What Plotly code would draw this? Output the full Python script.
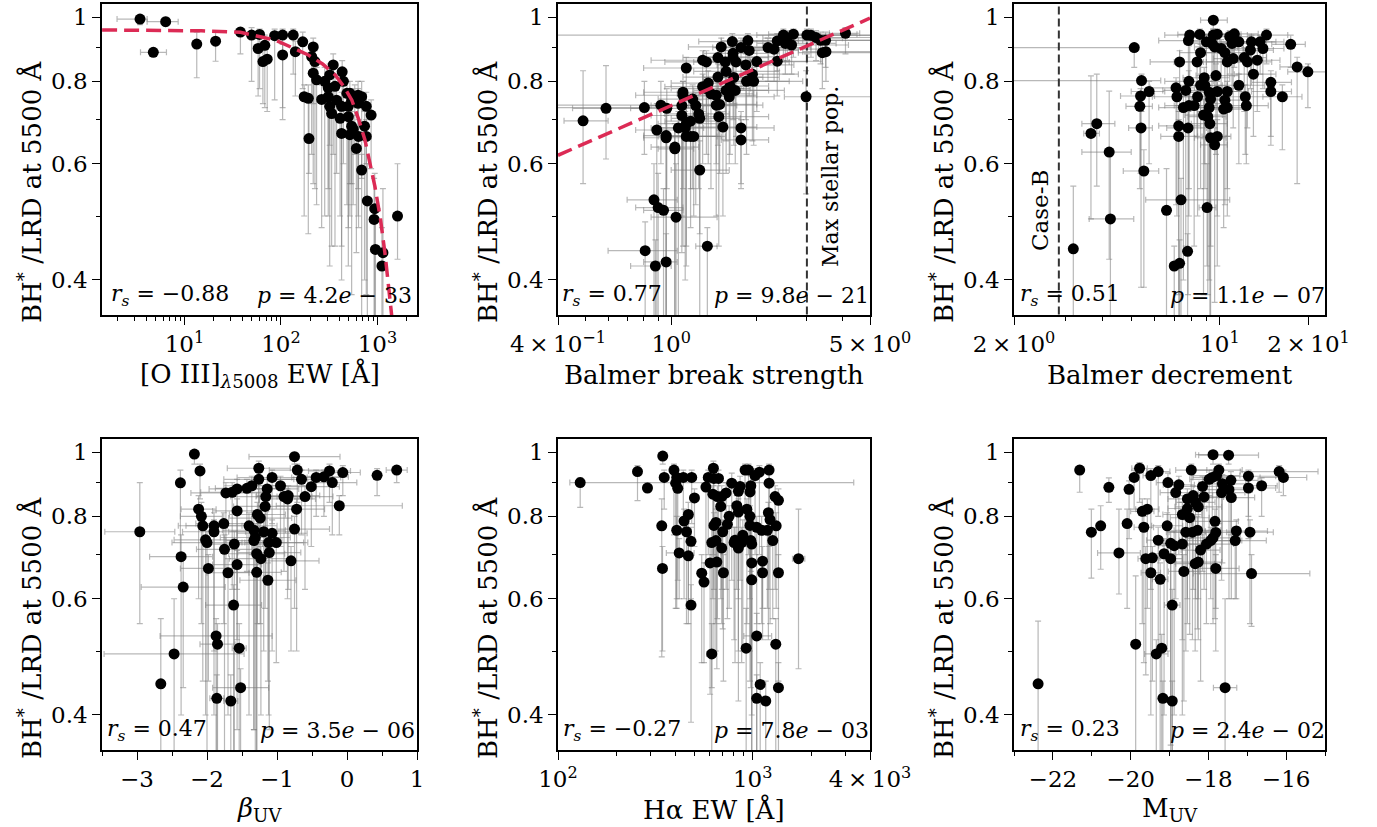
import plotly.graph_objects as go

# ---------------- data ----------------
# Panel 1: [O III] EW vs BH*/LRD fraction
p1_x = [3.46, 6.38, 4.75, 13.4, 21, 38, 49.6, 60, 58, 68, 65, 72, 86, 104, 104, 134, 141, 168, 216, 208,
        225, 348, 431, 216, 234, 284, 309, 363, 444, 518, 582, 174, 192, 264, 320, 335, 425, 499, 630, 766,
        860, 410, 499, 540, 560, 735, 425, 518, 637, 766, 605, 195, 686, 786, 937, 923, 953, 1140, 1113, 1615,
        309, 483, 540, 630, 377, 320, 686]
p1_y = [0.994, 0.985, 0.885, 0.911, 0.92, 0.95, 0.94, 0.942, 0.897, 0.907, 0.857, 0.864, 0.938, 0.94, 0.877,
        0.94, 0.887, 0.918, 0.902, 0.872, 0.857, 0.847, 0.827, 0.823, 0.804, 0.80, 0.782, 0.786, 0.80, 0.767,
        0.754, 0.758, 0.754, 0.751, 0.733, 0.715, 0.733, 0.733, 0.741, 0.733, 0.711, 0.703, 0.707, 0.684, 0.677,
        0.684, 0.667, 0.664, 0.66, 0.66, 0.633, 0.655, 0.587, 0.527, 0.513, 0.494, 0.445, 0.44, 0.42, 0.50,
        0.758, 0.767, 0.749, 0.762, 0.749, 0.818, 0.758]
p1_ylo = [0.975, 0.97, 0.875, 0.81, 0.858, 0.88, 0.80, 0.78, 0.76, 0.73, 0.74, 0.72, 0.75, 0.73, 0.70, 0.82,
          0.76, 0.78, 0.74, 0.62, 0.55, 0.62, 0.72, 0.56, 0.52, 0.50, 0.55, 0.45, 0.60, 0.56, 0.62, 0.50, 0.47,
          0.48, 0.42, 0.45, 0.40, 0.48, 0.55, 0.60, 0.59, 0.50, 0.42, 0.38, 0.52, 0.40, 0.45, 0.50, 0.48, 0.38,
          0.44, 0.58, 0.34, 0.30, 0.30, 0.30, 0.30, 0.30, 0.30, 0.43, 0.50, 0.52, 0.56, 0.50, 0.58, 0.64, 0.57]
p1_yhi = [1.0, 1.0, 0.895, 0.95, 0.955, 0.965, 0.965, 0.96, 0.93, 0.94, 0.89, 0.90, 0.96, 0.96, 0.91, 0.96,
          0.92, 0.95, 0.93, 0.90, 0.89, 0.88, 0.86, 0.86, 0.84, 0.84, 0.82, 0.82, 0.83, 0.80, 0.79, 0.79, 0.79,
          0.79, 0.77, 0.75, 0.77, 0.77, 0.78, 0.77, 0.75, 0.74, 0.745, 0.72, 0.71, 0.72, 0.70, 0.70, 0.70, 0.70,
          0.67, 0.75, 0.62, 0.60, 0.58, 0.57, 0.52, 0.55, 0.48, 0.60, 0.79, 0.80, 0.78, 0.80, 0.78, 0.85, 0.80]
p1_xlo = [2.0, 4.1, 3.5] + [None] * 64
p1_xhi = [4.1, 8.6, 6.5] + [None] * 64
p1_fit_x = [1.4, 5, 15, 38, 87, 192, 270, 365, 450, 543, 640, 742, 840, 942, 1070, 1197, 1403, 1450]
p1_fit_y = [0.957, 0.956, 0.954, 0.949, 0.924, 0.877, 0.85, 0.818, 0.785, 0.749, 0.70, 0.652, 0.603, 0.554,
            0.497, 0.439, 0.354, 0.335]

# Panel 2: Balmer break strength
p2_x = [0.49, 0.59, 0.805, 0.92, 0.965, 0.89, 0.96, 0.96, 1.03, 1.03, 0.87, 0.90, 0.94, 1.04, 0.81, 0.88, 0.96,
        1.34, 1.26, 1.13, 1.10, 1.10, 1.09, 1.09, 1.12, 1.13, 1.17, 1.13, 1.17, 1.2, 1.19, 1.22, 1.25, 1.26,
        1.29, 1.33, 1.29, 1.33, 1.35, 1.38, 1.44, 1.44, 1.47, 1.48, 1.46, 1.46, 1.50, 1.52, 1.55, 1.56, 1.56,
        1.60, 1.61, 1.64, 1.65, 1.66, 1.68, 1.65, 1.69, 1.76, 1.76, 1.76, 1.83, 1.84, 1.86, 1.88, 1.93, 1.95,
        2.0, 2.19, 2.30, 2.36, 2.36, 2.48, 2.52, 2.56, 2.69, 2.65, 2.98, 3.0, 3.1, 3.23, 3.35, 3.49, 3.4, 3.5,
        4.1, 1.06]
p2_y = [0.697, 0.728, 0.73, 0.736, 0.728, 0.675, 0.662, 0.657, 0.636, 0.632, 0.529, 0.515, 0.51, 0.498, 0.443,
        0.42, 0.426, 0.45, 0.587, 0.838, 0.77, 0.762, 0.735, 0.71, 0.68, 0.69, 0.696, 0.66, 0.66, 0.66, 0.752,
        0.735, 0.714, 0.703, 0.785, 0.78, 0.861, 0.856, 0.795, 0.766, 0.762, 0.736, 0.707, 0.738, 0.812, 0.869,
        0.902, 0.682, 0.856, 0.828, 0.775, 0.758, 0.787, 0.919, 0.882, 0.811, 0.775, 0.871, 0.856, 0.90, 0.68,
        0.652, 0.847, 0.80, 0.922, 0.891, 0.82, 0.80, 0.857, 0.90, 0.895, 0.921, 0.858, 0.94, 0.913, 0.93, 0.943,
        0.908, 0.758, 0.94, 0.939, 0.932, 0.923, 0.923, 0.884, 0.887, 0.946, 0.68]
p2_ylo = [0.56, 0.61, 0.62, 0.60, 0.55, 0.30, 0.35, 0.30, 0.30, 0.30, 0.30, 0.30, 0.30, 0.35, 0.30, 0.30, 0.30,
          0.30, 0.30, 0.68, 0.55, 0.45, 0.50, 0.44, 0.40, 0.45, 0.55, 0.42, 0.48, 0.50, 0.55, 0.52, 0.55, 0.47,
          0.60, 0.62, 0.72, 0.70, 0.60, 0.55, 0.60, 0.50, 0.45, 0.58, 0.64, 0.72, 0.76, 0.50, 0.68, 0.65, 0.58,
          0.60, 0.62, 0.80, 0.74, 0.64, 0.60, 0.70, 0.66, 0.78, 0.56, 0.55, 0.70, 0.62, 0.82, 0.76, 0.65, 0.64,
          0.72, 0.80, 0.80, 0.83, 0.76, 0.86, 0.82, 0.86, 0.87, 0.82, 0.54, 0.88, 0.87, 0.86, 0.85, 0.84, 0.78,
          0.80, 0.88, 0.30]
p2_yhi = [0.83, 0.845, 0.80, 0.80, 0.78, 0.74, 0.72, 0.71, 0.69, 0.68, 0.60, 0.58, 0.55, 0.60, 0.49, 0.46, 0.47,
          0.48, 0.65, 0.87, 0.80, 0.80, 0.78, 0.75, 0.72, 0.73, 0.73, 0.70, 0.70, 0.70, 0.79, 0.77, 0.75, 0.74,
          0.82, 0.81, 0.89, 0.89, 0.83, 0.80, 0.80, 0.77, 0.74, 0.78, 0.85, 0.90, 0.93, 0.72, 0.89, 0.86, 0.81,
          0.80, 0.82, 0.945, 0.91, 0.85, 0.81, 0.90, 0.89, 0.93, 0.72, 0.70, 0.88, 0.84, 0.945, 0.92, 0.86, 0.84,
          0.89, 0.93, 0.92, 0.945, 0.89, 0.96, 0.94, 0.955, 0.96, 0.935, 0.83, 0.96, 0.96, 0.955, 0.95, 0.95,
          0.91, 0.915, 0.965, 0.72]
p2_xlo = [0.42, 0.45, 0.30, 0.30, 0.72, 0.75, 0.8, 0.8, 0.85, 0.9, 0.7, 0.75, 0.8, 0.85, 0.6, 0.72, 0.8, 1.22,
          1.0, 0.8, 0.8, 0.75, 0.8, 0.85, 0.9, 0.9, 0.95, 0.9, 0.95, 1.0, 0.9, 0.85, 0.95, 1.0, 0.95, 1.0, 0.85,
          0.95, 1.0, 1.05, 1.1, 1.1, 1.1, 1.15, 1.1, 1.1, 1.15, 1.2, 1.2, 1.2, 1.2, 1.25, 1.25, 1.25, 1.3, 1.3,
          1.3, 1.3, 1.3, 1.4, 1.45, 1.5, 1.45, 1.5, 1.5, 1.5, 1.6, 1.6, 1.6, 1.8, 1.9, 1.9, 1.9, 2.0, 2.0, 2.1,
          2.2, 2.1, 2.5, 0.30, 2.6, 2.7, 2.7, 2.9, 2.8, 2.9, 3.6, 0.85]
p2_xhi = [0.60, 0.80, 1.0, 1.1, 1.3, 1.1, 1.15, 1.2, 1.25, 1.2, 1.05, 1.1, 1.1, 1.45, 1.05, 1.0, 1.05, 1.45,
          1.6, 1.5, 1.4, 1.6, 1.5, 1.35, 1.5, 1.45, 1.45, 1.5, 1.55, 1.45, 1.6, 1.7, 1.6, 1.75, 1.8, 1.9, 2.0,
          1.9, 1.9, 1.95, 2.0, 2.1, 2.2, 2.0, 2.1, 2.2, 2.3, 2.0, 2.3, 2.4, 2.2, 2.3, 2.2, 2.5, 2.4, 2.4, 2.5,
          2.3, 2.6, 2.6, 2.3, 2.2, 2.7, 2.6, 2.8, 2.8, 2.8, 2.9, 3.0, 3.1, 3.3, 3.5, 3.4, 3.6, 3.8, 4.0, 4.5,
          4.2, 5.5, 5.5, 5.5, 5.5, 5.5, 5.5, 5.5, 5.5, 4.6, 1.3]
p2_fit_x = [0.4, 5.0]
p2_fit_y = [0.618, 0.997]
p2_vline_x = 3.0

# Panel 3: Balmer decrement
p3_x = [3.18, 3.65, 3.82, 4.21, 4.25, 5.12, 5.42, 5.38, 5.75, 5.35, 5.4, 5.52, 6.59, 7.38, 7.0, 7.3, 7.77,
        9.05, 7.1, 7.15, 7.25, 7.25, 7.3, 7.52, 7.66, 7.82, 7.9, 7.85, 7.8, 7.85, 8.18, 8.37, 8.55, 8.6, 8.8,
        8.85, 8.9, 9.0, 9.1, 9.2, 9.25, 9.5, 9.5, 9.4, 9.6, 9.8, 9.7, 9.8, 9.3, 9.3, 9.8, 9.6, 10.1, 10.4,
        10.3, 10.4, 10.6, 10.6, 10.8, 11.0, 11.2, 11.1, 10.6, 11.6, 11.6, 12.1, 12.2, 12.3, 12.4, 12.8, 12.7,
        13.0, 13.4, 13.7, 14.0, 14.4, 14.9, 14.9, 16.3, 17.4, 18.3, 19.9, 8.6, 8.4, 9.2]
p3_y = [0.446, 0.667, 0.69, 0.625, 0.495, 0.90, 0.802, 0.76, 0.772, 0.733, 0.68, 0.585, 0.51, 0.529, 0.42,
        0.424, 0.442, 0.515, 0.782, 0.758, 0.685, 0.66, 0.856, 0.73, 0.775, 0.922, 0.94, 0.80, 0.68, 0.735,
        0.735, 0.856, 0.942, 0.884, 0.711, 0.81, 0.788, 0.918, 0.707, 0.73, 0.69, 0.99, 0.94, 0.913, 0.902,
        0.943, 0.816, 0.772, 0.752, 0.657, 0.66, 0.641, 0.897, 0.884, 0.726, 0.749, 0.73, 0.856, 0.935, 0.913,
        0.944, 0.866, 0.772, 0.918, 0.789, 0.869, 0.758, 0.735, 0.856, 0.918, 0.892, 0.82, 0.861, 0.918, 0.897,
        0.94, 0.797, 0.772, 0.758, 0.91, 0.841, 0.827, 0.789, 0.758, 0.77]
p3_ylo = [0.30, 0.495, 0.555, 0.43, 0.32, 0.84, 0.72, 0.58, 0.60, 0.55, 0.39, 0.39, 0.30, 0.30, 0.30, 0.30,
          0.30, 0.42, 0.52, 0.50, 0.35, 0.38, 0.72, 0.40, 0.45, 0.72, 0.74, 0.55, 0.38, 0.50, 0.45, 0.66, 0.80,
          0.72, 0.38, 0.60, 0.55, 0.76, 0.38, 0.40, 0.35, 0.96, 0.80, 0.76, 0.74, 0.82, 0.62, 0.50, 0.45, 0.33,
          0.42, 0.37, 0.74, 0.72, 0.48, 0.52, 0.50, 0.66, 0.82, 0.78, 0.84, 0.68, 0.55, 0.80, 0.60, 0.72, 0.62,
          0.60, 0.68, 0.82, 0.78, 0.66, 0.72, 0.82, 0.78, 0.85, 0.66, 0.64, 0.63, 0.84, 0.56, 0.73, 0.55, 0.50,
          0.52]
p3_yhi = [0.555, 0.815, 0.82, 0.773, 0.62, 0.91, 0.82, 0.78, 0.80, 0.77, 0.72, 0.63, 0.59, 0.57, 0.45, 0.46,
          0.47, 0.60, 0.81, 0.79, 0.72, 0.70, 0.89, 0.76, 0.81, 0.945, 0.955, 0.83, 0.72, 0.77, 0.77, 0.89, 0.96,
          0.91, 0.75, 0.84, 0.82, 0.94, 0.74, 0.76, 0.73, 1.0, 0.96, 0.94, 0.93, 0.96, 0.85, 0.80, 0.78, 0.69,
          0.70, 0.68, 0.925, 0.91, 0.76, 0.78, 0.76, 0.89, 0.955, 0.94, 0.96, 0.895, 0.80, 0.94, 0.82, 0.90,
          0.79, 0.77, 0.89, 0.94, 0.92, 0.85, 0.89, 0.94, 0.925, 0.96, 0.83, 0.80, 0.79, 0.94, 0.87, 0.85, 0.82,
          0.79, 0.80]
p3_xlo = [None, 3.45, 3.4, 3.4, 3.6, 1.5, 1.5, 4.6, 5.0, 4.8, 4.9, 4.7, None, 5.6, None, None, None, 8.5, 5.8,
          5.9, 6.2, 6.3, 5.8, 6.2, 6.4, 6.2, 6.5, 6.5, 6.6, 6.5, 7.0, 7.0, 7.2, 7.3, 7.6, 7.5, 7.6, 7.6, 7.8,
          7.9, 8.0, 8.6, 8.0, 8.0, 8.2, 8.4, 8.3, 8.4, 8.0, 8.2, 8.7, 8.6, 8.7, 9.0, 8.9, 9.0, 9.1, 9.0, 9.3,
          9.4, 9.6, 9.5, 9.1, 10.0, 9.8, 10.4, 10.4, 10.6, 10.6, 11.0, 10.9, 11.2, 11.5, 11.8, 12.0, 12.4,
          12.8, 12.8, 14.0, 15.0, 16.0, 17.0, 7.3, 7.2, 7.9]
p3_xhi = [None, 3.9, 4.4, 5.0, 5.1, 5.3, 6.3, 6.0, 6.5, 5.9, 5.9, 6.2, None, 10.8, None, None, None, 9.7, 8.2,
          8.5, 8.6, 8.4, 8.8, 9.5, 9.3, 9.8, 9.5, 9.5, 9.0, 9.4, 9.8, 10.2, 10.5, 10.4, 10.2, 10.8, 10.6, 11.0,
          10.5, 10.8, 10.6, 10.6, 11.5, 11.2, 11.5, 11.8, 11.6, 11.8, 10.8, 10.5, 10.9, 10.6, 12.0, 12.4, 12.2,
          12.4, 12.5, 12.8, 12.8, 13.0, 13.5, 13.2, 12.5, 14.0, 14.2, 14.4, 14.8, 14.6, 15.0, 15.5, 15.2, 15.5,
          16.0, 16.5, 16.5, 17.0, 17.5, 17.5, 19.0, 19.5, 20.0, 23.0, 10.2, 10.0, 10.8]
p3_vline_x = 2.84

# Panel 4: beta_UV
p4_x = [-2.18, -2.1, -2.38, -2.96, -2.37, -2.34, -2.47, -2.66, -2.12, -2.08, -2.06, -2.02, -2.0, -1.9, -1.9,
        -1.98, -1.76, -1.75, -1.73, -1.64, -1.57, -1.57, -1.61, -1.57, -1.7, -1.62, -1.87, -1.85, -1.54, -1.52,
        -1.86, -1.66, -1.43, -1.36, -1.26, -1.26, -1.4, -1.33, -1.31, -1.33, -1.28, -1.24, -1.29, -1.23, -1.29,
        -1.19, -1.17, -1.16, -1.14, -1.07, -1.12, -1.11, -1.13, -1.07, -1.01, -0.95, -0.9, -0.84, -0.85, -0.75,
        -0.71, -0.65, -0.72, -0.75, -0.8, -0.6, -0.51, -0.44, -0.33, -0.25, -0.21, -0.06, -0.11, 0.43, 0.71]
p4_y = [0.994, 0.937, 0.899, 0.758, 0.695, 0.625, 0.495, 0.446, 0.82, 0.80, 0.774, 0.737, 0.73, 0.774, 0.758,
        0.667, 0.78, 0.713, 0.868, 0.87, 0.88, 0.815, 0.726, 0.676, 0.657, 0.587, 0.527, 0.512, 0.505, 0.44,
        0.424, 0.42, 0.882, 0.89, 0.946, 0.91, 0.774, 0.762, 0.743, 0.735, 0.805, 0.795, 0.702, 0.69, 0.658,
        0.758, 0.828, 0.857, 0.88, 0.916, 0.73, 0.705, 0.64, 0.754, 0.73, 0.89, 0.857, 0.86, 0.85, 0.985, 0.94,
        0.91, 0.82, 0.765, 0.685, 0.857, 0.887, 0.916, 0.918, 0.937, 0.9, 0.932, 0.83, 0.923, 0.94]
p4_ylo = [0.96, 0.85, 0.69, 0.55, 0.40, 0.44, 0.30, 0.30, 0.60, 0.55, 0.45, 0.40, 0.35, 0.50, 0.40, 0.45, 0.55,
          0.30, 0.65, 0.62, 0.62, 0.52, 0.35, 0.38, 0.40, 0.30, 0.30, 0.30, 0.30, 0.30, 0.30, 0.30, 0.66, 0.70,
          0.78, 0.70, 0.40, 0.38, 0.35, 0.38, 0.55, 0.55, 0.32, 0.40, 0.30, 0.50, 0.58, 0.65, 0.70, 0.78, 0.40,
          0.38, 0.45, 0.50, 0.48, 0.72, 0.66, 0.62, 0.60, 0.96, 0.84, 0.75, 0.50, 0.58, 0.50, 0.62, 0.72, 0.80,
          0.80, 0.84, 0.75, 0.86, 0.75, 0.86, 0.90]
p4_yhi = [1.0, 0.96, 0.94, 0.90, 0.75, 0.70, 0.60, 0.56, 0.86, 0.84, 0.81, 0.77, 0.76, 0.81, 0.79, 0.70, 0.81,
          0.75, 0.90, 0.90, 0.91, 0.85, 0.76, 0.71, 0.69, 0.63, 0.56, 0.55, 0.55, 0.47, 0.46, 0.46, 0.91, 0.92,
          0.97, 0.94, 0.81, 0.80, 0.78, 0.77, 0.84, 0.83, 0.74, 0.72, 0.69, 0.79, 0.86, 0.89, 0.91, 0.94, 0.76,
          0.74, 0.68, 0.79, 0.76, 0.92, 0.89, 0.89, 0.88, 1.0, 0.96, 0.94, 0.85, 0.80, 0.72, 0.89, 0.92, 0.94,
          0.94, 0.96, 0.93, 0.955, 0.86, 0.945, 0.955]
p4_xerr = [0.05, 0.05, 0.05, 0.5, 0.45, 0.6, 1.0, 0.05, 0.25, 0.3, 0.35, 0.45, 0.5, 0.4, 0.45, 0.4, 0.4, 0.4,
           0.5, 0.45, 0.4, 0.35, 0.4, 0.35, 0.3, 0.4, 0.8, 0.25, 0.1, 0.4, 0.1, 0.1, 0.45, 0.4, 0.45, 0.5, 0.4,
           0.45, 0.5, 0.4, 0.4, 0.45, 0.4, 0.45, 0.35, 0.5, 0.45, 0.5, 0.45, 0.5, 0.5, 0.45, 0.4, 0.5, 0.45,
           0.45, 0.4, 0.45, 0.4, 0.65, 0.4, 0.45, 0.4, 0.5, 0.4, 0.4, 0.4, 0.35, 0.35, 0.3, 0.35, 0.25, 0.9,
           0.05, 0.15]

# Panel 5: H-alpha EW
p5_x = [130, 256, 288, 345, 351, 341, 344, 394, 407, 402, 412, 440, 407, 419, 444, 457, 467, 467, 482, 486,
        502, 482, 547, 562, 575, 591, 616, 604, 616, 628, 632, 624, 632, 647, 647, 658, 667, 654, 685, 693,
        701, 693, 707, 730, 741, 756, 780, 802, 811, 828, 844, 844, 861, 844, 877, 889, 913, 925, 933, 951,
        968, 977, 968, 968, 977, 988, 988, 988, 1028, 1048, 1048, 1092, 1048, 1082, 1111, 1123, 1123, 1166,
        1189, 1213, 1213, 1203, 1227, 1267, 1303, 1319, 1313, 1355, 1355, 1355, 1718]
p5_y = [0.90, 0.935, 0.883, 0.987, 0.916, 0.774, 0.667, 0.94, 0.916, 0.898, 0.882, 0.916, 0.762, 0.704, 0.787,
        0.758, 0.805, 0.697, 0.733, 0.916, 0.853, 0.587, 0.656, 0.636, 0.886, 0.916, 0.495, 0.68, 0.73, 0.946,
        0.913, 0.864, 0.775, 0.783, 0.735, 0.857, 0.913, 0.682, 0.828, 0.857, 0.758, 0.716, 0.657, 0.868, 0.778,
        0.80, 0.898, 0.73, 0.736, 0.83, 0.812, 0.873, 0.888, 0.716, 0.73, 0.749, 0.94, 0.505, 0.82, 0.94, 0.871,
        0.89, 0.80, 0.775, 0.735, 0.726, 0.68, 0.641, 0.922, 0.527, 0.77, 0.445, 0.424, 0.933, 0.762, 0.684,
        0.657, 0.42, 0.762, 0.94, 0.898, 0.81, 0.791, 0.735, 0.857, 0.774, 0.512, 0.657, 0.44, 0.846, 0.69]
p5_ylo = [0.825, 0.845, 0.87, 0.96, 0.82, 0.49, 0.50, 0.75, 0.60, 0.58, 0.64, 0.78, 0.58, 0.60, 0.60, 0.55,
          0.58, 0.55, 0.60, 0.78, 0.72, 0.39, 0.48, 0.48, 0.68, 0.70, 0.30, 0.43, 0.44, 0.70, 0.62, 0.60, 0.50,
          0.55, 0.50, 0.56, 0.68, 0.47, 0.60, 0.62, 0.54, 0.55, 0.45, 0.62, 0.56, 0.58, 0.64, 0.52, 0.48, 0.62,
          0.50, 0.60, 0.64, 0.42, 0.48, 0.50, 0.72, 0.30, 0.55, 0.70, 0.60, 0.66, 0.50, 0.45, 0.44, 0.40, 0.32,
          0.30, 0.70, 0.30, 0.55, 0.30, 0.30, 0.70, 0.55, 0.52, 0.58, 0.30, 0.58, 0.72, 0.62, 0.52, 0.55, 0.56,
          0.62, 0.58, 0.30, 0.45, 0.30, 0.65, 0.47]
p5_yhi = [0.915, 0.955, 0.90, 1.0, 0.94, 0.85, 0.72, 0.96, 0.94, 0.93, 0.91, 0.94, 0.80, 0.74, 0.82, 0.79, 0.84,
          0.73, 0.77, 0.94, 0.88, 0.63, 0.70, 0.68, 0.91, 0.94, 0.55, 0.72, 0.77, 0.97, 0.94, 0.89, 0.81, 0.82,
          0.77, 0.89, 0.94, 0.72, 0.86, 0.89, 0.79, 0.75, 0.70, 0.90, 0.81, 0.83, 0.93, 0.77, 0.77, 0.86, 0.85,
          0.90, 0.92, 0.75, 0.77, 0.79, 0.96, 0.58, 0.85, 0.96, 0.90, 0.92, 0.83, 0.81, 0.77, 0.76, 0.72, 0.68,
          0.945, 0.57, 0.80, 0.48, 0.46, 0.955, 0.80, 0.72, 0.69, 0.45, 0.80, 0.96, 0.93, 0.84, 0.82, 0.77, 0.89,
          0.81, 0.56, 0.70, 0.48, 0.88, 0.82]
p5_xlo = [115] + [None] * 12 + [360] + [None] * 12 + [580] + [None] * 42 + [900] + [None] * 20 + [1600]
p5_xhi = [3300] + [None] * 12 + [500] + [None] * 12 + [650] + [None] * 42 + [1250] + [None] * 20 + [1850]

# Panel 6: M_UV
p6_x = [-21.31, -22.38, -21.01, -20.77, -20.56, -20.30, -20.09, -20.04, -19.91, -19.87, -19.77, -19.70, -19.57,
        -19.66, -19.61, -19.44, -19.48, -19.48, -19.34, -19.29, -19.29, -19.24, -19.2, -19.17, -19.06, -19.04,
        -19.14, -18.97, -18.97, -18.93, -18.93, -18.88, -18.84, -18.76, -18.67, -18.67, -18.63, -18.58, -18.54,
        -18.54, -18.48, -18.44, -18.41, -18.39, -18.34, -18.26, -18.28, -18.26, -18.2, -18.15, -18.11, -18.05,
        -17.98, -17.94, -17.88, -17.9, -17.88, -17.83, -17.81, -17.81, -17.79, -17.73, -17.64, -17.57, -17.48,
        -17.47, -17.42, -17.66, -17.41, -17.28, -17.31, -16.97, -16.97, -16.93, -16.89, -16.63, -16.18, -16.07,
        -18.33]
p6_y = [0.94, 0.446, 0.757, 0.774, 0.885, 0.704, 0.78, 0.879, 0.916, 0.512, 0.946, 0.814, 0.82, 0.77, 0.69,
        0.692, 0.922, 0.657, 0.495, 0.736, 0.935, 0.642, 0.505, 0.424, 0.774, 0.9, 0.702, 0.728, 0.69, 0.587,
        0.42, 0.722, 0.869, 0.893, 0.805, 0.726, 0.66, 0.757, 0.85, 0.822, 0.796, 0.94, 0.757, 0.86, 0.678,
        0.827, 0.762, 0.682, 0.711, 0.888, 0.856, 0.726, 0.91, 0.735, 0.992, 0.916, 0.742, 0.786, 0.756, 0.667,
        0.922, 0.94, 0.896, 0.44, 0.99, 0.878, 0.907, 0.869, 0.854, 0.76, 0.735, 0.92, 0.883, 0.757, 0.655,
        0.89, 0.935, 0.916, 0.84]
p6_ylo = [0.87, 0.30, 0.645, 0.665, 0.84, 0.61, 0.58, 0.74, 0.82, 0.30, 0.84, 0.55, 0.58, 0.48, 0.46, 0.45,
          0.62, 0.40, 0.30, 0.50, 0.80, 0.30, 0.30, 0.30, 0.50, 0.70, 0.40, 0.36, 0.35, 0.30, 0.30, 0.40, 0.60,
          0.70, 0.52, 0.40, 0.42, 0.50, 0.60, 0.55, 0.53, 0.74, 0.52, 0.62, 0.50, 0.60, 0.54, 0.52, 0.45, 0.66,
          0.62, 0.55, 0.72, 0.60, 0.96, 0.75, 0.55, 0.56, 0.58, 0.50, 0.78, 0.78, 0.68, 0.30, 0.96, 0.60, 0.75,
          0.64, 0.60, 0.60, 0.60, 0.80, 0.74, 0.55, 0.545, 0.80, 0.87, 0.86, 0.60]
p6_yhi = [0.955, 0.555, 0.82, 0.83, 0.915, 0.82, 0.82, 0.905, 0.94, 0.65, 0.965, 0.85, 0.85, 0.80, 0.72, 0.72,
          0.945, 0.69, 0.52, 0.77, 0.955, 0.68, 0.53, 0.45, 0.81, 0.93, 0.74, 0.76, 0.72, 0.62, 0.45, 0.76, 0.90,
          0.92, 0.84, 0.76, 0.70, 0.79, 0.88, 0.855, 0.83, 0.96, 0.79, 0.89, 0.71, 0.86, 0.80, 0.72, 0.75, 0.92,
          0.89, 0.76, 0.94, 0.77, 1.0, 0.94, 0.78, 0.82, 0.79, 0.70, 0.945, 0.96, 0.925, 0.60, 1.0, 0.905, 0.935,
          0.90, 0.885, 0.79, 0.77, 0.94, 0.91, 0.79, 0.70, 0.915, 0.955, 0.94, 0.87]
p6_xerr = [0.05, 0.05, 0.05, 0.05, 0.05, 0.55, 0.1, 0.1, 0.1, 0.1, 0.2, 0.3, 0.3, 0.25, 0.2, 0.2, 0.2, 0.25,
           0.3, 0.3, 0.3, 0.2, 0.1, 0.1, 0.4, 0.3, 0.3, 0.4, 0.3, 0.2, 0.1, 0.4, 0.4, 0.4, 0.5, 0.5, 0.4, 0.5,
           0.5, 0.5, 0.5, 0.4, 0.6, 0.5, 0.5, 0.6, 0.6, 0.6, 0.5, 0.5, 0.5, 0.7, 0.5, 0.8, 0.45, 0.5, 0.7, 0.6,
           0.6, 0.6, 0.6, 0.6, 0.6, 0.3, 0.77, 0.6, 0.7, 0.6, 0.6, 0.8, 0.8, 0.7, 0.7, 0.6, 1.5, 0.4, 1.0, 0.6,
           0.5]

# correlation statistics printed in each panel
rs_text = ["−0.88", "0.77", "0.51", "0.47", "−0.27", "0.23"]
p_text = ["4.2", "9.8", "1.1", "3.5", "7.8", "2.4"]
p_exp = ["33", "21", "07", "06", "03", "02"]

x_titles = ["[O III]<sub><i>λ</i>5008</sub> EW [Å]", "Balmer break strength", "Balmer decrement",
            "<i>β</i><sub>UV</sub>", "Hα EW [Å]", "M<sub>UV</sub>"]
y_title = "BH<sup>*</sup> /LRD at 5500 Å"

# ---------------- figure ----------------
W, H = 1377, 827
COLS = [(102, 417), (558, 870), (1014, 1325)]
ROWS = [(4, 315), (439, 750)]
ECOL = "rgba(125,125,125,0.55)"
FONT = "DejaVu Serif, Liberation Serif, serif"
TS = "\u2009×\u2009"

fig = go.Figure()


def names(i):
    s = "" if i == 1 else str(i)
    return "x" + s, "y" + s


def asym(v, lo, hi):
    plus = [(h - a) if h is not None else 0 for a, h in zip(v, hi)]
    minus = [(a - l) if l is not None else 0 for a, l in zip(v, lo)]
    return plus, minus


panels = [
    dict(x=p1_x, y=p1_y, ylo=p1_ylo, yhi=p1_yhi, xlo=p1_xlo, xhi=p1_xhi),
    dict(x=p2_x, y=p2_y, ylo=p2_ylo, yhi=p2_yhi, xlo=p2_xlo, xhi=p2_xhi),
    dict(x=p3_x, y=p3_y, ylo=p3_ylo, yhi=p3_yhi, xlo=p3_xlo, xhi=p3_xhi),
    dict(x=p4_x, y=p4_y, ylo=p4_ylo, yhi=p4_yhi, xerr=p4_xerr),
    dict(x=p5_x, y=p5_y, ylo=p5_ylo, yhi=p5_yhi, xlo=p5_xlo, xhi=p5_xhi),
    dict(x=p6_x, y=p6_y, ylo=p6_ylo, yhi=p6_yhi, xerr=p6_xerr),
]

# error bars (drawn first)
for i, p in enumerate(panels, start=1):
    xr, yr = names(i)
    yp, ym = asym(p["y"], p["ylo"], p["yhi"])
    ey = dict(type="data", symmetric=False, array=yp, arrayminus=ym, color=ECOL, thickness=1.2, width=3)
    if "xerr" in p:
        ex = dict(type="data", symmetric=True, array=p["xerr"], color=ECOL, thickness=1.2, width=3)
    else:
        xp, xm = asym(p["x"], p["xlo"], p["xhi"])
        ex = dict(type="data", symmetric=False, array=xp, arrayminus=xm, color=ECOL, thickness=1.2, width=3)
    fig.add_trace(go.Scatter(x=p["x"], y=p["y"], mode="markers",
                             marker=dict(size=2, color="rgba(0,0,0,0)"),
                             error_x=ex, error_y=ey, xaxis=xr, yaxis=yr,
                             hoverinfo="skip", showlegend=False))

# vertical reference lines
for i, xv in [(2, p2_vline_x), (3, p3_vline_x)]:
    xr, yr = names(i)
    fig.add_trace(go.Scatter(x=[xv, xv], y=[0.3, 1.2], mode="lines",
                             line=dict(color="#333333", width=2, dash="8px,4px"),
                             xaxis=xr, yaxis=yr, hoverinfo="skip", showlegend=False))

# data points
for i, p in enumerate(panels, start=1):
    xr, yr = names(i)
    fig.add_trace(go.Scatter(x=p["x"], y=p["y"], mode="markers",
                             marker=dict(size=11, color="black", line=dict(width=0)),
                             xaxis=xr, yaxis=yr, showlegend=False))

# fit lines
for i, fx, fy in [(1, p1_fit_x, p1_fit_y), (2, p2_fit_x, p2_fit_y)]:
    xr, yr = names(i)
    fig.add_trace(go.Scatter(x=fx, y=fy, mode="lines",
                             line=dict(color="#DC2B55", width=3.5, dash="15px,7px"),
                             xaxis=xr, yaxis=yr, hoverinfo="skip", showlegend=False))

# axes
x_cfg = [
    dict(type="log", range=[0.145, 3.41], tickvals=[10, 100, 1000],
         ticktext=["10<sup>1</sup>", "10<sup>2</sup>", "10<sup>3</sup>"],
         minor=[2, 3, 4, 5, 6, 7, 8, 9, 20, 30, 40, 50, 60, 70, 80, 90, 200, 300, 400, 500, 600, 700, 800, 900, 2000]),
    dict(type="log", range=[-0.39794, 0.69897], tickvals=[0.4, 1, 5],
         ticktext=["4" + TS + "10<sup>−1</sup>", "10<sup>0</sup>", "5" + TS + "10<sup>0</sup>"],
         minor=[0.5, 0.6, 0.7, 0.8, 0.9, 2, 3, 4]),
    dict(type="log", range=[0.30103, 1.357], tickvals=[2, 10, 20],
         ticktext=["2" + TS + "10<sup>0</sup>", "10<sup>1</sup>", "2" + TS + "10<sup>1</sup>"],
         minor=[3, 4, 5, 6, 7, 8, 9]),
    dict(type="linear", range=[-3.5, 1.0], tickvals=[-3, -2, -1, 0, 1],
         ticktext=["−3", "−2", "−1", "0", "1"],
         minor=[-3.5, -2.5, -1.5, -0.5, 0.5]),
    dict(type="log", range=[2.0, 3.60206], tickvals=[100, 1000, 4000],
         ticktext=["10<sup>2</sup>", "10<sup>3</sup>", "4" + TS + "10<sup>3</sup>"],
         minor=[200, 300, 400, 500, 600, 700, 800, 900, 2000, 3000]),
    dict(type="linear", range=[-23, -15], tickvals=[-22, -20, -18, -16],
         ticktext=["−22", "−20", "−18", "−16"],
         minor=[-23, -21, -19, -17, -15]),
]

layout_axes = {}
for i in range(1, 7):
    c, r = (i - 1) % 3, (i - 1) // 3
    xr, yr = names(i)
    x0, x1 = COLS[c]
    y0, y1 = ROWS[r]
    cfg = x_cfg[i - 1]
    common = dict(ticks="outside", ticklen=8, tickwidth=1.4, tickcolor="black",
                  showline=True, linecolor="black", linewidth=1.5, mirror=True,
                  showgrid=False, zeroline=False, automargin=False,
                  tickfont=dict(family=FONT, size=23, color="black"))
    layout_axes["xaxis" + ("" if i == 1 else str(i))] = dict(
        domain=[x0 / W, x1 / W], anchor=yr, type=cfg["type"], range=cfg["range"],
        tickmode="array", tickvals=cfg["tickvals"], ticktext=cfg["ticktext"],
        minor=dict(tickmode="array", tickvals=cfg["minor"], ticks="outside", ticklen=4,
                   tickwidth=1.2, tickcolor="black", showgrid=False),
        **common)
    layout_axes["yaxis" + ("" if i == 1 else str(i))] = dict(
        domain=[1 - y1 / H, 1 - y0 / H], anchor=xr, type="log", range=[-0.451, 0.0202],
        tickmode="array", tickvals=[0.4, 0.6, 0.8, 1], ticktext=["0.4", "0.6", "0.8", "1"],
        minor=dict(tickmode="array", tickvals=[0.5, 0.7, 0.9], ticks="outside", ticklen=4,
                   tickwidth=1.2, tickcolor="black", showgrid=False),
        **common)

annotations = []


def ann(text, x, y, angle=0, size=24):
    annotations.append(dict(text=text, x=x / W, y=1 - y / H, xref="paper", yref="paper",
                            xanchor="center", yanchor="middle", textangle=angle, showarrow=False,
                            font=dict(family=FONT, size=size, color="black")))


ytitle_x = [30, 486, 942]
ytitle_y = [192, 628]
xtitle_y = [375, 809]
rs_center = [170, 612, 1070, 157, 622, 1070]
p_center = [334, 792, 1247, 337, 792, 1247]
for i in range(1, 7):
    c, r = (i - 1) % 3, (i - 1) // 3
    ann(y_title, ytitle_x[c], ytitle_y[r], angle=-90, size=26)
    ann(x_titles[i - 1], (COLS[c][0] + COLS[c][1]) / 2, xtitle_y[r], size=26)
    yrow = 295 if r == 0 else 730
    ann("<i>r</i><sub><i>s</i></sub> = " + rs_text[i - 1], rs_center[i - 1], yrow, size=22)
    ann("<i>p</i> = " + p_text[i - 1] + "<i>e</i> − " + p_exp[i - 1], p_center[i - 1], yrow, size=22)

ann("Max stellar pop.", 831, 177, angle=-90, size=22)
ann("Case-B", 1040, 211, angle=-90, size=23)

fig.update_layout(width=W, height=H, margin=dict(l=0, r=0, t=0, b=0, autoexpand=False),
                  paper_bgcolor="white", plot_bgcolor="white",
                  font=dict(family=FONT, size=24, color="black"),
                  showlegend=False, annotations=annotations, **layout_axes)

fig.write_html("out.html")
